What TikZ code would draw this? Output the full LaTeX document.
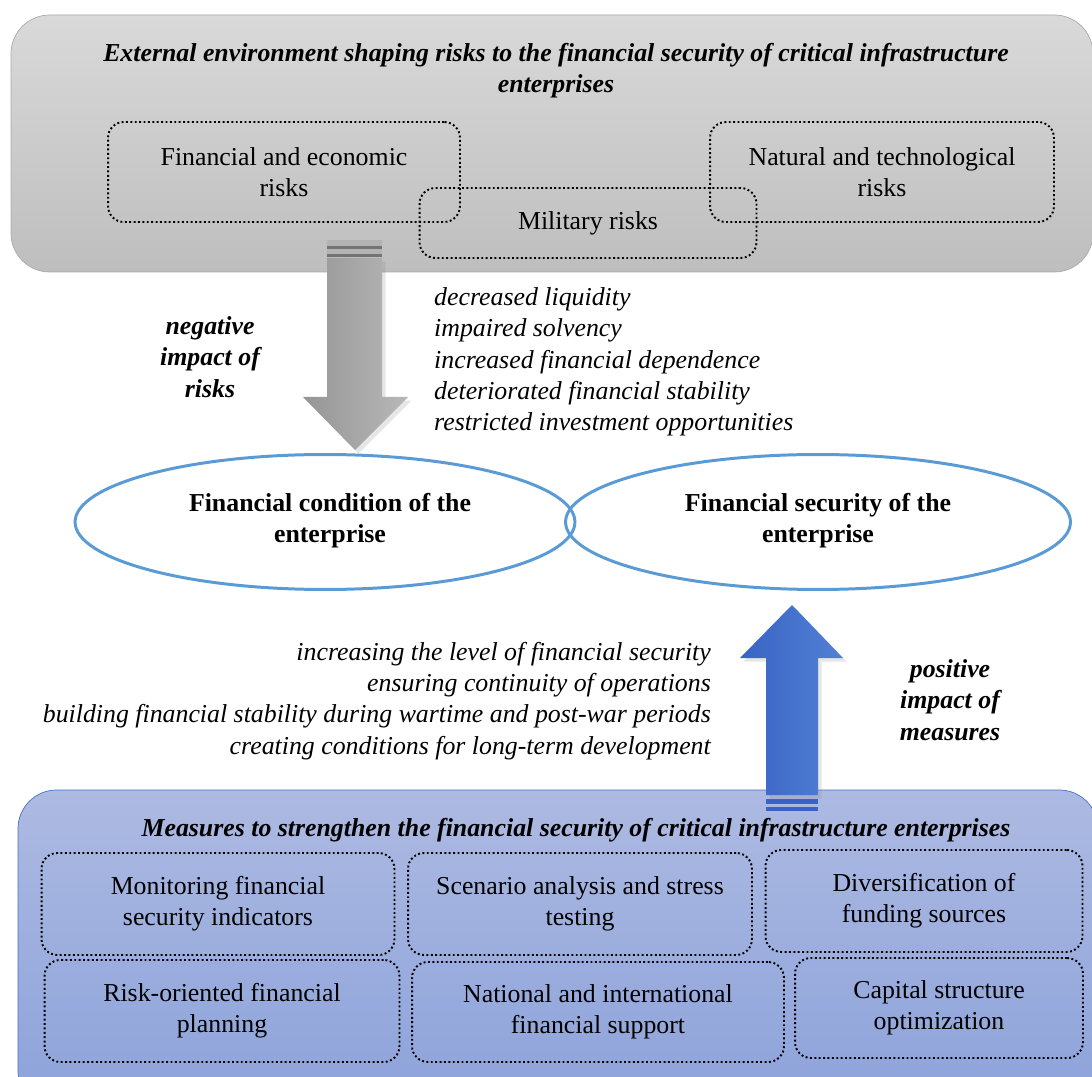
\documentclass[tikz,border=0pt]{standalone}
\usepackage{fontspec}
\setmainfont{Liberation Serif}
\usetikzlibrary{positioning,shapes.geometric,shadows}
\definecolor{topgray}{RGB}{217,217,217}
\definecolor{botgray}{RGB}{190,190,190}
\definecolor{edgegray}{RGB}{170,170,170}
\definecolor{topblue}{RGB}{173,186,226}
\definecolor{botblue}{RGB}{140,162,218}
\definecolor{edgeblue}{RGB}{68,114,196}
\definecolor{ellblue}{RGB}{91,155,213}
\definecolor{arrblueA}{RGB}{56,100,196}
\definecolor{arrblueB}{RGB}{82,128,212}
\definecolor{arrgray}{RGB}{166,166,166}
\tikzset{
  txt/.style={font=\fontsize{14.7}{17.8}\selectfont, align=center},
  headtxt/.style={txt, font=\fontsize{14.7}{17.8}\selectfont\bfseries\itshape},
  listtxt/.style={txt, font=\fontsize{14.7}{17.8}\selectfont\itshape},
  riskbox/.style={txt, draw, line width=1.1pt, dash pattern=on 1.1pt off 1.4pt,
    rounded corners=9pt, inner sep=0pt},
  stateell/.style={txt, ellipse, draw=ellblue, line width=1.7pt, inner sep=0pt,
    font=\fontsize{14.7}{17.8}\selectfont\bfseries}
}
\begin{document}
\begin{tikzpicture}[x=0.02cm, y=-0.02cm]
\clip (0,0) rectangle (1092,1077);
% external environment
\draw[top color=topgray, bottom color=botgray, draw=edgegray, rounded corners=22pt]
  (11,15) rectangle (1093,272);
\node[headtxt] (envtitle) at (556,71) {External environment shaping risks to the financial security of critical infrastructure\\enterprises};
\node[riskbox, minimum width=7.04cm, minimum height=2cm] (finrisk) at (284,172) {Financial and economic\\risks};
\node[riskbox, minimum width=6.88cm, minimum height=2cm] (natrisk) at (882,172) {Natural and technological\\risks};
\node[riskbox, minimum width=6.74cm, minimum height=1.4cm] (milrisk) at (588,223) {Military risks};

% measures
\draw[top color=topblue, bottom color=botblue, draw=edgeblue, rounded corners=22pt]
  (18,790) rectangle (1098,1110);
\node[headtxt] (meastitle) at (576,830) {Measures to strengthen the financial security of critical infrastructure enterprises};
\node[riskbox, minimum width=7.06cm, minimum height=2.04cm] (monit) at (218,904) {Monitoring financial\\security indicators};
\node[riskbox, minimum width=6.88cm, minimum height=2.04cm] (scen) at (580,904) {Scenario analysis and stress\\testing};
\node[riskbox, minimum width=6.34cm, minimum height=2.04cm] (divers) at (924,901) {Diversification of\\funding sources};
\node[riskbox, minimum width=7.1cm, minimum height=2.04cm] (plan) at (222,1011) {Risk-oriented financial\\planning};
\node[riskbox, minimum width=7.44cm, minimum height=2cm] (support) at (598,1012) {National and international\\financial support};
\node[riskbox, minimum width=5.76cm, minimum height=2cm] (capital) at (939,1008) {Capital structure\\optimization};

% negative arrow
\shade[left color=arrgray!90!black, right color=arrgray!80!white, drop shadow={opacity=0.2, shadow xshift=2pt, shadow yshift=-2pt}]
  (327,258) -- (382,258) -- (382,397) -- (408,397) -- (355,450) -- (303,397) -- (327,397) -- cycle;
\fill[arrgray!85!white] (327,240) rectangle (382,246);
\fill[arrgray!70!black] (327,246) rectangle (382,249);
\fill[arrgray!85!white] (327,249) rectangle (382,254);
\fill[arrgray!70!black] (327,254) rectangle (382,257);
\node[headtxt] (neglab) at (210,357) {negative\\impact of\\risks};
\node[listtxt, align=left, anchor=west] (neglist) at (428,362) {decreased liquidity\\impaired solvency\\increased financial dependence\\deteriorated financial stability\\restricted investment opportunities};

% ellipses
\node[stateell, minimum width=10cm, minimum height=2.7cm] (cond) at (325,522) {};
\node[stateell, minimum width=10.1cm, minimum height=2.7cm] (secur) at (818,522) {};
\node[txt, font=\fontsize{14.7}{17.8}\selectfont\bfseries] (condtxt) at (330,521) {Financial condition of the\\enterprise};
\node[txt, font=\fontsize{14.7}{17.8}\selectfont\bfseries] (securtxt) at (818,521) {Financial security of the\\enterprise};

% positive arrow
\shade[left color=arrblueA, right color=arrblueB, drop shadow={opacity=0.2, shadow xshift=2pt, shadow yshift=-2pt}]
  (792,605) -- (843,658) -- (818,658) -- (818,795) -- (766,795) -- (766,658) -- (740,658) -- cycle;
\fill[arrblueA] (766,799) rectangle (818,804);
\fill[arrblueA] (766,807) rectangle (818,811);
\node[headtxt] (poslab) at (950,700) {positive\\impact of\\measures};
\node[listtxt, align=right, anchor=east] (poslist) at (717,701) {increasing the level of financial security\\ensuring continuity of operations\\building financial stability during wartime and post-war periods\\creating conditions for long-term development};
\end{tikzpicture}
\end{document}
